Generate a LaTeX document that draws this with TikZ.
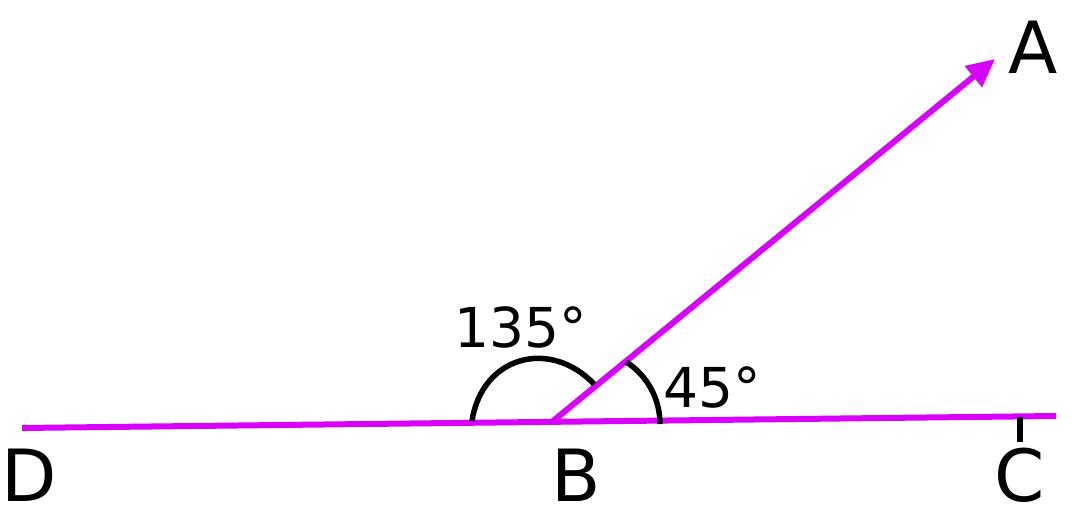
\documentclass[tikz,border=0pt]{standalone}
\usepackage{fontspec}
\setmainfont{DejaVu Sans}
\usetikzlibrary{arrows.meta}
\definecolor{mag}{RGB}{216,0,255}
\begin{document}
\begin{tikzpicture}[x=1pt,y=-1pt,
  ray/.style={draw=mag,line width=6pt},
  arcline/.style={draw=black,line width=5.5pt},
  bigl/.style={font=\fontsize{72}{72}\selectfont,inner sep=0pt},
  angl/.style={font=\fontsize{55}{55}\selectfont,inner sep=0pt}]
\useasboundingbox (0,0) rectangle (1074,518);
\coordinate (D) at (22,428);
\coordinate (C) at (1056,416);
\coordinate (B) at (553,421);
\coordinate (A) at (995,59);
\coordinate (Ct) at (1020,417);
\coordinate (Cb) at (1020,442);
\coordinate (a45s) at (660,424);
\coordinate (a135s) at (472,421);
\coordinate (a135e) at (594,384);
\draw[ray] (D) -- (C);
\draw[ray,-{Triangle[length=28pt,width=26pt]}] (B) -- (A);
\draw[arcline] (Ct) -- (Cb);
% 45 degree arc
\draw[arcline] (a45s) arc[start angle=0,end angle=-57,radius=74];
% 135 degree arc
\draw[arcline] (a135s) .. controls (482,356) and (550,338) .. (a135e);
\node[bigl] (lA) at (1033,47) {A};
\node[bigl] (lB) at (576,475) {B};
\node[bigl] (lC) at (1020,475) {C};
\node[bigl] (lD) at (29,475) {D};
\node[angl] (l135) at (521,327) {135°};
\node[angl] (l45) at (712,387) {45°};
\end{tikzpicture}
\end{document}
